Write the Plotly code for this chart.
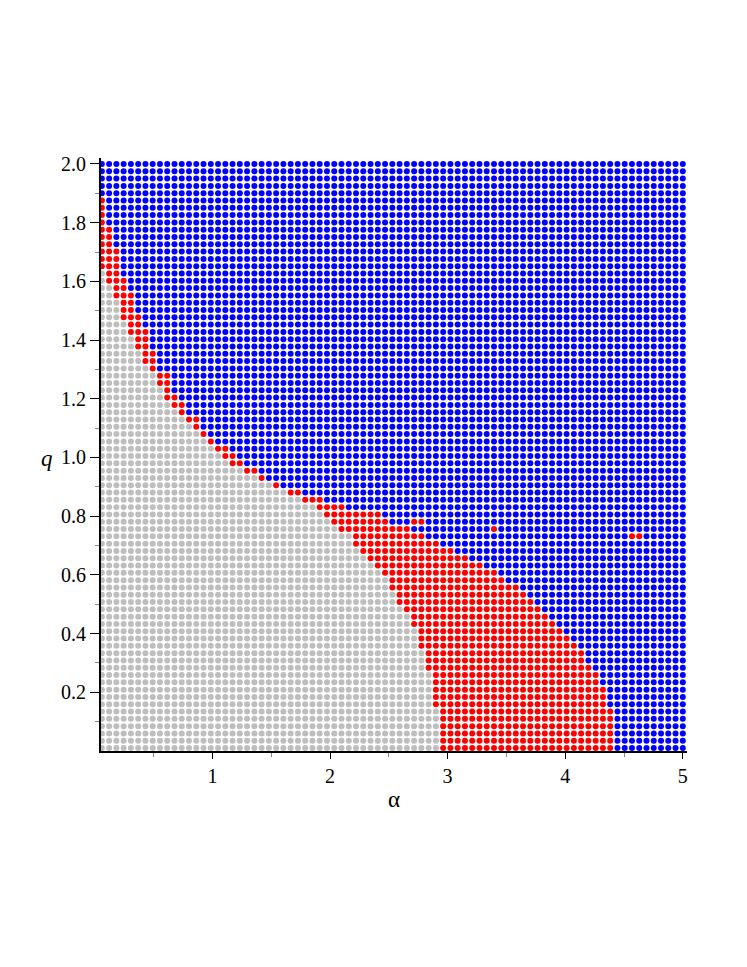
import numpy as np
import plotly.graph_objects as go

# grid of the scan: 81 alpha columns x 81 q rows
alpha_vals = np.linspace(0.06, 5.0, 81)
q_vals = np.linspace(0.01, 2.0, 81)

# per q row (bottom -> top): number of grey columns from the left,
# and column where the red band ends (blue to the right of it)
grey_end = [47, 47, 47, 47, 47, 47, 46, 46, 46, 46,   # rows 0-9
            46, 45, 45, 45, 44, 44, 44, 43, 43, 42,   # rows 10-19
            41, 41, 40, 40, 39, 38, 37, 36, 35, 35,   # rows 20-29
            33, 32, 31, 30, 28, 26, 24, 22, 20, 18,   # rows 30-39
            17, 16, 15, 14, 13, 12, 11, 10, 9, 9,     # rows 40-49
            8, 8, 7, 6, 6, 5, 5, 4, 4, 3,             # rows 50-59
            3, 3, 2, 2, 1, 1, 0, 0, 0, 0,             # rows 60-69
            0, 0, 0, 0, 0, 0, 0, 0, 0, 0,             # rows 70-79
            0]                                        # row 80
red_end = [71, 71, 71, 71, 71, 71, 70, 70, 70, 69,
           69, 68, 67, 67, 66, 65, 64, 63, 62, 61,
           60, 59, 58, 56, 55, 53, 51, 49, 47, 45,
           43, 40, 39, 34, 31, 28, 25, 23, 22, 20,
           19, 18, 16, 15, 14, 14, 12, 12, 11, 10,
           10, 10, 8, 8, 8, 7, 7, 7, 6, 6,
           5, 5, 5, 4, 4, 3, 3, 3, 3, 2,
           2, 2, 1, 1, 1, 1, 0, 0, 0, 0,
           0]

# stray red points inside the blue region (column, row), 1-based columns
extra_red_col = [44, 45, 55, 74, 75]
extra_red_row = [31, 31, 30, 29, 29]

x_tick_vals = [1, 2, 3, 4, 5]
x_minor_vals = [0.5, 1.5, 2.5, 3.5, 4.5]
y_tick_vals = [0.2, 0.4, 0.6, 0.8, 1.0, 1.2, 1.4, 1.6, 1.8, 2.0]
y_minor_vals = [0.1, 0.3, 0.5, 0.7, 0.9, 1.1, 1.3, 1.5, 1.7, 1.9]

colors = {'grey': '#bebebe', 'red': '#ff0000', 'blue': '#0000ff'}

# classify every grid cell
extras = set(zip(extra_red_col, extra_red_row))
pts = {'grey': ([], []), 'red': ([], []), 'blue': ([], [])}
for j, q in enumerate(q_vals):
    for i, a in enumerate(alpha_vals):
        k = i + 1
        if k <= grey_end[j]:
            c = 'grey'
        elif k <= red_end[j] or (k, j) in extras:
            c = 'red'
        else:
            c = 'blue'
        pts[c][0].append(a)
        pts[c][1].append(q)

fig = go.Figure()
for name in ['grey', 'red', 'blue']:
    fig.add_trace(go.Scatter(
        x=pts[name][0], y=pts[name][1],
        mode='markers',
        marker=dict(size=6, color=colors[name], line=dict(width=0)),
        cliponaxis=False,
        showlegend=False,
        hoverinfo='skip'
    ))

font = dict(family='Liberation Serif', size=20, color='black')

# page body has an 8px margin, so the figure is 8px smaller and margins shifted
fig.update_layout(
    width=739, height=959,
    margin=dict(l=93, r=60, t=150, b=216),
    plot_bgcolor='white', paper_bgcolor='white',
    font=font,
    xaxis=dict(
        range=[0.0527, 5.0357],
        showgrid=False, zeroline=False,
        showline=True, linecolor='black', linewidth=2,
        ticks='outside', ticklen=6, tickwidth=1, tickcolor='black',
        tickvals=x_tick_vals, ticktext=[str(v) for v in x_tick_vals],
        minor=dict(tickvals=x_minor_vals, ticks='outside', ticklen=4,
                   tickcolor='#888888', showgrid=False),
        tickfont=font
    ),
    yaxis=dict(
        range=[0, 2.0204],
        showgrid=False, zeroline=False,
        showline=True, linecolor='black', linewidth=2,
        ticks='outside', ticklen=9, tickwidth=1, tickcolor='black',
        tickvals=y_tick_vals, ticktext=['%.1f' % v for v in y_tick_vals],
        minor=dict(tickvals=y_minor_vals, ticks='outside', ticklen=4,
                   tickcolor='#888888', showgrid=False),
        tickfont=font
    ),
    annotations=[
        dict(text='α', xref='paper', yref='paper', x=0.5, y=-0.0826,
             xanchor='center', yanchor='middle', showarrow=False,
             font=dict(family='Liberation Serif', size=23, color='black')),
        dict(text='<i>q</i>', xref='paper', yref='paper', x=-0.092, y=0.494,
             xanchor='center', yanchor='middle', showarrow=False,
             font=dict(family='Liberation Serif', size=23, color='black')),
    ]
)

fig.write_html("out.html")
